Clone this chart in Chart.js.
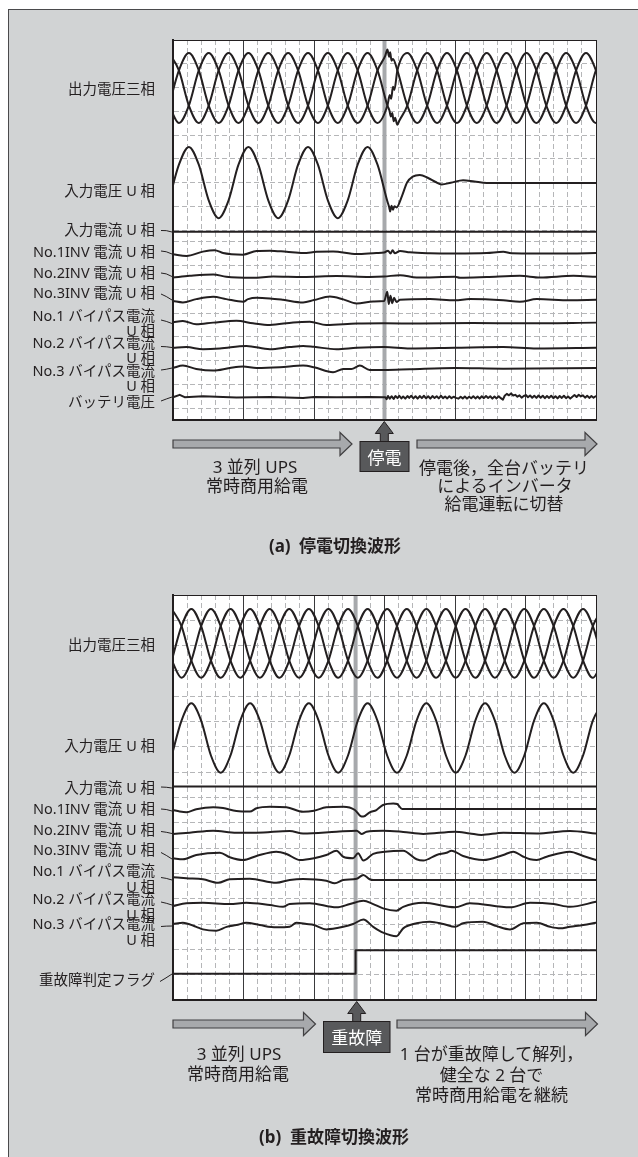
<!DOCTYPE html>
<html><head><meta charset="utf-8">
<script src="https://cdn.jsdelivr.net/npm/chart.js@4/dist/chart.umd.min.js"></script>
<style>
html,body{margin:0;padding:0;background:#fff;}
body{width:638px;height:1157px;position:relative;overflow:hidden;font-family:"Noto Sans","Noto Sans CJK JP",sans-serif;color:#231f20;}
#panel{position:absolute;left:8px;top:9px;width:630px;height:1148px;background:#d1d3d4;border-left:1px solid #4a4a4c;border-top:1px solid #4a4a4c;box-sizing:border-box;}
canvas{position:absolute;}
.l{position:absolute;right:483px;transform:translateY(-50%);text-align:right;white-space:nowrap;font-size:14.5px;line-height:15.5px;}
.c{position:absolute;transform:translate(-50%,-50%);white-space:nowrap;font-size:17px;line-height:19px;text-align:center;}
.cap{font-size:17px;font-weight:bold;}
.box{color:#fff;font-size:17px;}
svg{position:absolute;left:0;top:0;}
</style>
</head><body>
<div id="panel"></div>
<canvas id="ca" width="431" height="388" style="left:169px;top:36px;width:431px;height:388px"></canvas>
<canvas id="cb" width="431" height="413" style="left:169px;top:591px;width:431px;height:413px"></canvas>

<svg width="638" height="1157" viewBox="0 0 638 1157">
 <g fill="none" stroke="#231f20" stroke-width="1">
  <path d="M161 230.5 Q166 230 172 232"/>
  <path d="M161 251 Q166 251 172 254"/>
  <path d="M161 273 Q166 273 172 276.5"/>
  <path d="M161 294 Q166 296 172 300"/>
  <path d="M161 320 Q166 321 172 323.5"/>
  <path d="M161 346.5 Q166 346.5 172 347.5"/>
  <path d="M161 370 Q166 369.5 172 368"/>
  <path d="M161 401 Q166 399 172 397"/>
  <path d="M161 787 Q166 787 172 788"/>
  <path d="M161 809 Q166 809 172 811"/>
  <path d="M161 831.5 Q166 832 172 833.5"/>
  <path d="M161 852.5 Q166 855 172 859"/>
  <path d="M161 877.5 Q166 878 172 880"/>
  <path d="M161 902 Q166 903 172 905"/>
  <path d="M161 926.5 Q166 926 172 926"/>
  <path d="M160 981.5 Q166 978 172 974"/>
 </g>
 <g fill="#a7a9ac" stroke="#414042" stroke-width="1.2" stroke-linejoin="miter">
  <polygon points="173,440 340,440 340,432.5 352,444 340,455.5 340,448 173,448"/>
  <polygon points="417,440 585,440 585,432.5 597,444 585,455.5 585,448 417,448"/>
  <polygon points="173,1020 303.5,1020 303.5,1012.5 315.5,1024 303.5,1035.5 303.5,1028 173,1028"/>
  <polygon points="397,1020 585.5,1020 585.5,1012.5 597.5,1024 585.5,1035.5 585.5,1028 397,1028"/>
 </g>
 <g fill="#58595b" stroke="#231f20" stroke-width="1">
  <polygon points="384.3,421.5 393.3,433.5 388.3,433.5 388.3,441.5 380.3,441.5 380.3,433.5 375.3,433.5"/>
  <rect x="360" y="441.5" width="49" height="30"/>
  <polygon points="356.7,1001.5 365.7,1013.5 360.7,1013.5 360.7,1021.5 352.7,1021.5 352.7,1013.5 347.7,1013.5"/>
  <rect x="323.5" y="1021.5" width="66.5" height="31"/>
 </g>
</svg>

<!-- labels (a) -->
<div class="l" style="top:89px">出力電圧三相</div>
<div class="l" style="top:190.7px">入力電圧 U 相</div>
<div class="l" style="top:230px">入力電流 U 相</div>
<div class="l" style="top:252.3px">No.1INV 電流 U 相</div>
<div class="l" style="top:273.3px">No.2INV 電流 U 相</div>
<div class="l" style="top:292.7px">No.3INV 電流 U 相</div>
<div class="l" style="top:322.5px">No.1 バイパス電流<br>U 相</div>
<div class="l" style="top:349.5px">No.2 バイパス電流<br>U 相</div>
<div class="l" style="top:377.5px">No.3 バイパス電流<br>U 相</div>
<div class="l" style="top:402px">バッテリ電圧</div>
<!-- labels (b) -->
<div class="l" style="top:645px">出力電圧三相</div>
<div class="l" style="top:745.7px">入力電圧 U 相</div>
<div class="l" style="top:788.3px">入力電流 U 相</div>
<div class="l" style="top:809.3px">No.1INV 電流 U 相</div>
<div class="l" style="top:830px">No.2INV 電流 U 相</div>
<div class="l" style="top:850px">No.3INV 電流 U 相</div>
<div class="l" style="top:878px">No.1 バイパス電流<br>U 相</div>
<div class="l" style="top:906px">No.2 バイパス電流<br>U 相</div>
<div class="l" style="top:931px">No.3 バイパス電流<br>U 相</div>
<div class="l" style="top:980px">重故障判定フラグ</div>

<!-- annotations (a) -->
<div class="c box" style="left:384.5px;top:456.5px">停電</div>
<div class="c" style="left:255px;top:466px">3 並列 UPS</div>
<div class="c" style="left:257px;top:485px">常時商用給電</div>
<div class="c" style="left:504px;top:466.7px">停電後，全台バッテリ</div>
<div class="c" style="left:505px;top:485px">によるインバータ</div>
<div class="c" style="left:504px;top:503.3px">給電運転に切替</div>
<div class="c cap" style="left:335px;top:545px">(a)&ensp;停電切換波形</div>
<!-- annotations (b) -->
<div class="c box" style="left:356.7px;top:1037px">重故障</div>
<div class="c" style="left:239px;top:1053px">3 並列 UPS</div>
<div class="c" style="left:238px;top:1073px">常時商用給電</div>
<div class="c" style="left:491.5px;top:1053px">1 台が重故障して解列，</div>
<div class="c" style="left:491.5px;top:1074px">健全な 2 台で</div>
<div class="c" style="left:491.5px;top:1094px">常時商用給電を継続</div>
<div class="c cap" style="left:334px;top:1136px">(b)&ensp;重故障切換波形</div>

<script>
// ---------- axes / ticks ----------
const T_MIN = 0, T_MAX = 120;              // time, ms
const xMinorTicks = [0,4,8,12,16,20,24,28,32,36,40,44,48,52,56,60,64,68,72,76,80,84,88,92,96,100,104,108,112,116,120];
const xMajorTicks = [0,20,40,60,80,100,120];
const yGridA = [16,15,14,13,12,11,10,9,8,7.5,6.5,5.5,4.5,3.5,2.5,1.5,0.5,0];
const yGridB = [16,15,14,13,12,11,10,9,8,7,6,5,4,3,2,1,0];
const eventA = 60;     // 停電
const eventB = 51.8;   // 重故障

// ---------- (a) waveforms (values in divisions) ----------
const tA = [-1.13,1.68,4.50,7.32,10.13,12.95,15.77,18.58,21.40,24.22,27.03,29.85,32.67,35.48,38.30,41.12,43.93,46.75,49.57,52.38,55.20,58.02,60.83,63.65,66.47,69.28,72.10,74.92,77.73,80.55,83.37,86.18,89.00,91.82,94.63,97.45,100.27,103.08,105.90,108.72,111.53,114.35,117.17,119.98,122.80];
const outUa = [-0.74,0.74,1.47,0.74,-0.74,-1.47,-0.74,0.74,1.47,0.74,-0.74,-1.47,-0.74,0.74,1.47,0.74,-0.74,-1.47,-0.74,0.74,1.47,0.74,-0.74,-1.55,-0.74,0.74,1.47,0.74,-0.74,-1.47,-0.74,0.74,1.47,0.74,-0.74,-1.47,-0.74,0.74,1.47,0.74,-0.74,-1.47,-0.74,0.74,1.47];
const outVa = [-0.74,-1.47,-0.74,0.74,1.47,0.74,-0.74,-1.47,-0.74,0.74,1.47,0.74,-0.74,-1.47,-0.74,0.74,1.47,0.74,-0.74,-1.47,-0.74,0.74,1.62,0.74,-0.74,-1.47,-0.74,0.74,1.47,0.74,-0.74,-1.47,-0.74,0.74,1.47,0.74,-0.74,-1.47,-0.74,0.74,1.47,0.74,-0.74,-1.47,-0.74];
const outWa = [1.47,0.74,-0.74,-1.47,-0.74,0.74,1.47,0.74,-0.74,-1.47,-0.74,0.74,1.47,0.74,-0.74,-1.47,-0.74,0.74,1.47,0.74,-0.74,-1.47,-0.74,0.74,1.47,0.74,-0.74,-1.47,-0.74,0.74,1.47,0.74,-0.74,-1.47,-0.74,0.74,1.47,0.74,-0.74,-1.47,-0.74,0.74,1.47,0.74,-0.74];
const glitchUa = [[61.4,-0.95],[61.8,-1.2],[62.2,-1.05],[62.6,-1.4],[63.0,-1.25],[64.2,-1.38]];
const glitchVa = [[60.2,1.35],[61.3,1.32],[61.6,1.5],[62.0,1.15],[62.4,1.22]];
const glitchWa = [[61.5,-0.3],[61.9,-0.45],[62.4,0.05],[62.8,-0.08]];
const inUa = [[-1.13,-0.75],[1.68,0.75],[4.50,1.5],[7.32,0.75],[10.13,-0.75],[12.95,-1.5],[15.77,-0.75],[18.58,0.75],[21.40,1.5],[24.22,0.75],[27.03,-0.75],[29.85,-1.5],[32.67,-0.75],[35.48,0.75],[38.30,1.5],[41.12,0.75],[43.93,-0.75],[46.75,-1.5],[49.57,-0.75],[52.38,0.75],[55.20,1.5],[58.02,0.75],[60.83,-0.8],[61.3,-1.02],[61.6,-1.22],[62.0,-0.98],[62.4,-1.15],[62.8,-1.0],[63.4,-1.05],[65.0,-0.55],[66.4,0],[68.0,0.25],[70.0,0.32],[72.5,0.18],[74.5,0.02],[76.2,-0.08],[78.8,-0.01],[82.3,0.1],[85.5,0.04],[89.0,-0.02],[122,-0.02]];
const inIa = [[0,0],[120,0]];
const inv1a = [[0,-0.04],[3.8,-0.11],[8.5,0.07],[11.8,0.13],[14.2,0.01],[16.6,-0.04],[19.9,-0.06],[23.7,0.10],[27.5,0.11],[32.2,0.06],[36.9,0.01],[40.7,0.06],[45.4,0.08],[52.1,-0.03],[57.7,0.01],[59.9,0.03],[61.0,0.11],[61.7,-0.01],[62.3,0.13],[62.9,0],[64.4,0.10],[67.2,0.04],[72.9,0],[80,-0.01],[89,0.01],[93.7,0.06],[96,0.0],[103.2,-0.01],[112.6,-0.01],[120,0.01]];
const inv2a = [[0,-0.03],[4.7,0.04],[11.4,0.1],[15.1,0],[22.7,-0.04],[28.4,0.01],[36.9,-0.01],[46.4,0.03],[55.8,-0.01],[59.9,0.01],[64.4,0.07],[69.1,-0.03],[80,0],[81.4,-0.04],[89,-0.01],[98.4,0.04],[104.1,-0.03],[113.6,0.04],[120,0]];
const inv3a = [[0,-0.04],[2.8,-0.1],[6.6,0.04],[11.4,0.14],[15.1,0.04],[19.9,-0.07],[21.3,0.04],[23.7,0.1],[27.5,0.07],[31.2,0.01],[36.9,-0.1],[40,0],[44.5,0.15],[48.3,0.03],[52.1,-0.14],[56.8,-0.06],[59.9,-0.04],[60.8,0.35],[61.2,-0.17],[61.7,0.18],[62.2,-0.13],[62.7,0.1],[63.4,-0.08],[64.4,0.01],[72.9,0.04],[80,-0.01],[84.2,0.04],[93.7,-0.01],[98.4,-0.07],[103.2,0.04],[112.6,-0.01],[120,0.01]];
const bp1a = [[0,0.04],[2.8,0.1],[6.6,-0.04],[11.4,0.03],[18,0.11],[22.7,0],[27.5,-0.07],[34.1,0.04],[38.8,0.07],[43.5,-0.07],[52.1,-0.01],[59.9,0],[70,-0.01],[85,0.01],[100,0],[120,0.03]];
const bp2a = [[0,0],[3.8,0.03],[8.5,-0.06],[13.3,-0.03],[20.8,0.08],[27.5,-0.06],[33.1,0.03],[36.9,0.08],[40,0.04],[46.4,-0.06],[52.1,0],[59.9,0.03],[67.2,-0.03],[80,0],[93.7,0.03],[103.2,-0.03],[120,0]];
const bp3a = [[0,0.04],[2.8,0.14],[6.6,0],[11.4,-0.07],[16.1,0.04],[19.9,0.1],[23.7,0.04],[30.3,0.07],[36.9,0.14],[40,0.07],[45.4,-0.14],[48.3,0],[50.6,0],[53,0.14],[55.8,-0.04],[59.9,-0.04],[67.2,-0.01],[80,0.04],[93.7,0.01],[120,0.04]];
const batA = [[0,0],[1.9,0.1],[3.3,0],[8.5,0.04],[18,-0.01],[27.5,0.01],[36.9,-0.03],[40,0.01],[46.4,0],[55.8,0.01],[59.9,0],
 [60.2,0],[60.6,-0.08],[61.0,0.05],[61.5,-0.06],[62.0,0.04],[62.6,-0.07],[63.1,0.05],[63.7,-0.04],[64.2,0.06],[64.8,-0.05],[65.3,0.03],[65.9,-0.06],[66.5,0.05],[67.0,-0.03],[67.6,0.06],[68.2,-0.05],[68.8,0.04],[69.4,-0.06],[70.0,0.05],[70.6,-0.04],[71.2,0.06],[71.8,-0.05],[72.4,0.04],[73.0,-0.06],[73.6,0.05],[74.2,-0.03],[74.8,0.04],[75.4,-0.05],[76.0,0.06],[76.6,-0.04],[77.2,0.03],[77.8,-0.05],[78.4,0.04],[79.0,-0.04],[79.6,0.02],[80.3,-0.03],[81.0,-0.06],[81.6,0.02],[82.2,-0.05],[82.8,0.03],[83.4,-0.06],[84.0,0.02],[84.6,-0.04],[85.2,0.04],[85.8,-0.05],[86.4,0.03],[87.0,-0.06],[87.6,0.04],[88.2,-0.04],[88.8,0.05],[89.4,-0.03],[90.0,0.04],[90.6,-0.06],[91.2,0.03],[91.8,-0.05],[92.4,0.04],[93.0,-0.04],[93.6,-0.1],[94.1,0.06],[94.7,0.14],[95.3,0.08],[95.9,0.16],[96.5,0.07],[97.1,0.1],[97.7,0.02],[98.3,0.08],[98.9,-0.02],[99.5,0.05],[100.1,0.09],[100.7,0.0],[101.3,0.07],[101.9,-0.02],[102.5,0.06],[103.1,-0.03],[103.7,0.07],[104.3,-0.02],[104.9,0.06],[105.5,-0.04],[106.1,0.05],[106.7,-0.03],[107.3,0.06],[107.9,-0.04],[108.5,0.04],[109.1,-0.05],[109.7,0.05],[110.3,-0.03],[110.9,0.06],[111.5,-0.04],[112.1,0.03],[112.7,-0.06],[113.3,0.02],[113.9,0.09],[114.5,0.01],[115.1,0.1],[115.7,0.03],[116.3,0.08],[116.9,-0.02],[117.5,0.06],[118.1,-0.03],[118.7,0.05],[119.3,-0.02],[119.9,0.04]];

// ---------- (b) waveforms ----------
const tB = [-0.36,2.42,5.20,7.98,10.76,13.53,16.31,19.09,21.87,24.65,27.43,30.20,32.98,35.76,38.54,41.32,44.10,46.87,49.65,52.43,55.21,57.99,60.76,63.54,66.32,69.10,71.88,74.65,77.43,80.21,82.99,85.77,88.54,91.32,94.10,96.88,99.66,102.43,105.21,107.99,110.77,113.55,116.33,119.10,121.88];
const outUb = [-0.68,0.68,1.36,0.68,-0.68,-1.36,-0.68,0.68,1.36,0.68,-0.68,-1.36,-0.68,0.68,1.36,0.68,-0.68,-1.36,-0.68,0.68,1.36,0.68,-0.68,-1.36,-0.68,0.68,1.36,0.68,-0.68,-1.36,-0.68,0.68,1.36,0.68,-0.68,-1.36,-0.68,0.68,1.36,0.68,-0.68,-1.36,-0.68,0.68,1.36];
const outVb = [-0.68,-1.36,-0.68,0.68,1.36,0.68,-0.68,-1.36,-0.68,0.68,1.36,0.68,-0.68,-1.36,-0.68,0.68,1.36,0.68,-0.68,-1.36,-0.68,0.68,1.36,0.68,-0.68,-1.36,-0.68,0.68,1.36,0.68,-0.68,-1.36,-0.68,0.68,1.36,0.68,-0.68,-1.36,-0.68,0.68,1.36,0.68,-0.68,-1.36,-0.68];
const outWb = [1.36,0.68,-0.68,-1.36,-0.68,0.68,1.36,0.68,-0.68,-1.36,-0.68,0.68,1.36,0.68,-0.68,-1.36,-0.68,0.68,1.36,0.68,-0.68,-1.36,-0.68,0.68,1.36,0.68,-0.68,-1.36,-0.68,0.68,1.36,0.68,-0.68,-1.36,-0.68,0.68,1.36,0.68,-0.68,-1.36,-0.68,0.68,1.36,0.68,-0.68];
const inUb = [-0.69,0.69,1.37,0.69,-0.69,-1.37,-0.69,0.69,1.37,0.69,-0.69,-1.37,-0.69,0.69,1.37,0.69,-0.69,-1.37,-0.69,0.69,1.37,0.69,-0.69,-1.37,-0.69,0.69,1.37,0.69,-0.69,-1.37,-0.69,0.69,1.37,0.69,-0.69,-1.37,-0.69,0.69,1.37,0.69,-0.69,-1.37,-0.69,0.69,1.37];
const inIb = [[0,0],[120,0]];
const inv1b = [[0,-0.04],[1.9,-0.1],[3.8,-0.13],[6.6,-0.01],[11.4,0.07],[14.2,0.04],[18.0,-0.08],[21.8,-0.1],[23.7,0.03],[27.5,0.09],[32.2,0.07],[36.9,-0.11],[40,-0.07],[43.5,0.07],[48.3,0.09],[51.6,-0.04],[53.2,-0.28],[54.0,-0.3],[55.8,-0.13],[57.7,-0.04],[59.6,0.16],[62.5,0.22],[63.6,0.2],[65.0,0],[120,0]];
const inv2b = [[0,-0.05],[4.7,0],[11.4,0.08],[18.0,0],[23.7,0],[33.1,0.07],[36.9,-0.03],[46.4,0.04],[52.1,0.08],[53.5,-0.05],[54.9,0.04],[59.6,0.08],[65.3,0.03],[71.0,-0.05],[80,0.04],[84.2,-0.03],[87.5,-0.09],[93.7,0],[103.2,-0.03],[112.6,0.07],[120,-0.03]];
const inv3b = [[0,-0.09],[2.8,-0.13],[6.6,0.04],[13.3,0.13],[16.1,-0.05],[19.9,-0.16],[23.7,0],[29.3,0.17],[32.2,0.08],[36.0,-0.16],[40,-0.09],[43.5,0.04],[46.4,0.21],[48.3,-0.03],[51.1,-0.09],[52.5,0.11],[54.0,-0.18],[56.8,0.08],[60.1,0.17],[65.3,0.21],[69.1,-0.13],[71.0,-0.18],[74.8,0.04],[77.6,0.13],[79.0,0.21],[82.3,0],[88.0,-0.16],[93.7,0.04],[96.5,0.17],[99.4,-0.03],[101.3,-0.13],[103.2,-0.16],[106.0,-0.03],[112.6,0.17],[116.4,0],[120,-0.16]];
const bp1b = [[0,0.11],[3.8,0.07],[8.5,0.03],[12.8,-0.11],[16.1,0.03],[21.8,0.05],[29.3,-0.11],[33.1,0],[36.9,0.04],[43.5,-0.03],[45.9,-0.13],[48.3,0],[52.1,0.05],[54.0,0.2],[55.8,0.03],[56.8,0],[120,0]];
const bp2b = [[0,-0.04],[3.8,0.07],[8.5,0.09],[16.1,0.04],[20.8,0.09],[27.5,0],[31.2,-0.07],[33.1,0.04],[38.8,0.07],[46.4,-0.09],[50.2,0.04],[54.0,0.17],[56.8,0.04],[59.6,-0.13],[63.4,-0.22],[65.3,-0.07],[71.0,0.09],[80,-0.09],[84.2,0.07],[95.6,-0.09],[101.3,0.09],[108.0,0.04],[112.6,-0.07],[120,0.13]];
const bp3b = [[0,0.08],[2.8,0.13],[6.6,-0.03],[8.5,-0.13],[12.3,-0.18],[15.2,-0.03],[18.0,0.04],[20.8,0.13],[24.6,0.04],[29.3,-0.05],[33.1,-0.03],[35.0,0.13],[37.9,0.08],[40,0.04],[43.5,-0.13],[48.3,-0.03],[51.1,0.08],[54.0,0.26],[56.8,-0.03],[59.6,-0.26],[63.4,-0.4],[65.3,-0.09],[69.1,0.11],[72.9,0.17],[76.7,0.08],[80,-0.03],[82.3,0.11],[88.0,0.17],[91.8,0],[95.6,-0.13],[99.4,0.11],[103.2,0.13],[107.0,-0.03],[109.8,-0.09],[112.6,-0.03],[116.4,0.04],[120,0.13]];
const flagB = [[0,0],[51.8,0],[51.8,0.93],[120,0.93]];

// ---------- channel zero levels (divisions from bottom) ----------
const levelsA = [13.98, 10.0, 7.93, 7.02, 6.03, 5.05, 4.07, 3.04, 2.15, 0.96];
const levelsB = [14.09, 10.35, 8.43, 7.545, 6.61, 5.69, 4.74, 3.75, 2.92, 1.04];

// ---------- build ----------
const INK = '#231f20', GRID = '#b5b6b8', EVENT_C = '#a7a9ac';
const pair = (ts, vs) => ts.map((t, i) => [t, vs[i]]);
const merge = (a, b) => a.concat(b).sort((p, q) => p[0] - q[0]);
function line(points, level, smooth) {
  return {
    data: points.map(([t, v]) => ({x: t, y: level + v})),
    borderColor: INK, borderWidth: 2, pointRadius: 0, fill: false,
    borderJoinStyle: 'round', borderCapStyle: 'round',
    tension: 0, cubicInterpolationMode: smooth ? 'monotone' : 'default',
    clip: 1, order: 0
  };
}
function eventBar(t) {
  return {data: [{x: t, y: 0}, {x: t, y: 16}], borderColor: EVENT_C, borderWidth: 4,
          pointRadius: 0, tension: 0, fill: false, order: 10, clip: 0};
}
const whiteArea = {id: 'whiteArea', beforeDraw(chart) {
  const {ctx, chartArea: a} = chart;
  ctx.save(); ctx.fillStyle = '#fff'; ctx.fillRect(a.left, a.top, a.width, a.height); ctx.restore();
}};
function scales(yTicks) {
  const setTicks = vals => ax => { ax.ticks = vals.map(v => ({value: v})); };
  return {
    x: {type: 'linear', min: T_MIN, max: T_MAX, position: 'bottom', afterBuildTicks: setTicks(xMinorTicks),
        ticks: {display: false, autoSkip: false}, grid: {color: GRID, lineWidth: 1, drawTicks: false, z: -2},
        border: {display: true, color: INK, width: 2, dash: [5, 3], z: 1}},
    x2: {type: 'linear', min: T_MIN, max: T_MAX, position: 'top', afterBuildTicks: setTicks(xMajorTicks),
        ticks: {display: false, autoSkip: false}, grid: {color: '#3a3a3c', lineWidth: 1, drawTicks: false, z: -1},
        border: {display: true, color: INK, width: 1, z: 1}},
    y: {type: 'linear', min: 0, max: 16, position: 'left', afterBuildTicks: setTicks(yTicks),
        ticks: {display: false, autoSkip: false}, grid: {color: GRID, lineWidth: 1, drawTicks: false, z: -2},
        border: {display: true, color: INK, width: 2, dash: [5, 3], z: 1}},
    y2: {type: 'linear', min: 0, max: 16, position: 'right',
        ticks: {display: false}, grid: {display: false, drawTicks: false},
        border: {display: true, color: INK, width: 1, z: 1}}
  };
}
function make(id, datasets, yTicks) {
  return new Chart(document.getElementById(id), {
    type: 'line',
    data: {datasets},
    options: {
      responsive: false, maintainAspectRatio: false, animation: false, devicePixelRatio: 1,
      events: [], parsing: true, normalized: true,
      layout: {padding: {left: 4, right: 4, top: 4, bottom: 4}},
      plugins: {legend: {display: false}, tooltip: {enabled: false}},
      scales: scales(yTicks)
    },
    plugins: [whiteArea]
  });
}

make('ca', [
  line(merge(pair(tA, outUa), glitchUa), levelsA[0], true),
  line(merge(pair(tA, outVa), glitchVa), levelsA[0], true),
  line(merge(pair(tA, outWa), glitchWa), levelsA[0], true),
  line(inUa, levelsA[1], true),
  line(inIa, levelsA[2], false),
  line(inv1a, levelsA[3], true),
  line(inv2a, levelsA[4], true),
  line(inv3a, levelsA[5], true),
  line(bp1a, levelsA[6], true),
  line(bp2a, levelsA[7], true),
  line(bp3a, levelsA[8], true),
  line(batA, levelsA[9], false),
  eventBar(eventA)
], yGridA);

make('cb', [
  line(pair(tB, outUb), levelsB[0], true),
  line(pair(tB, outVb), levelsB[0], true),
  line(pair(tB, outWb), levelsB[0], true),
  line(pair(tB, inUb), levelsB[1], true),
  line(inIb, levelsB[2], false),
  line(inv1b, levelsB[3], true),
  line(inv2b, levelsB[4], true),
  line(inv3b, levelsB[5], true),
  line(bp1b, levelsB[6], true),
  line(bp2b, levelsB[7], true),
  line(bp3b, levelsB[8], true),
  line(flagB, levelsB[9], false),
  eventBar(eventB)
], yGridB);
</script>
</body></html>
